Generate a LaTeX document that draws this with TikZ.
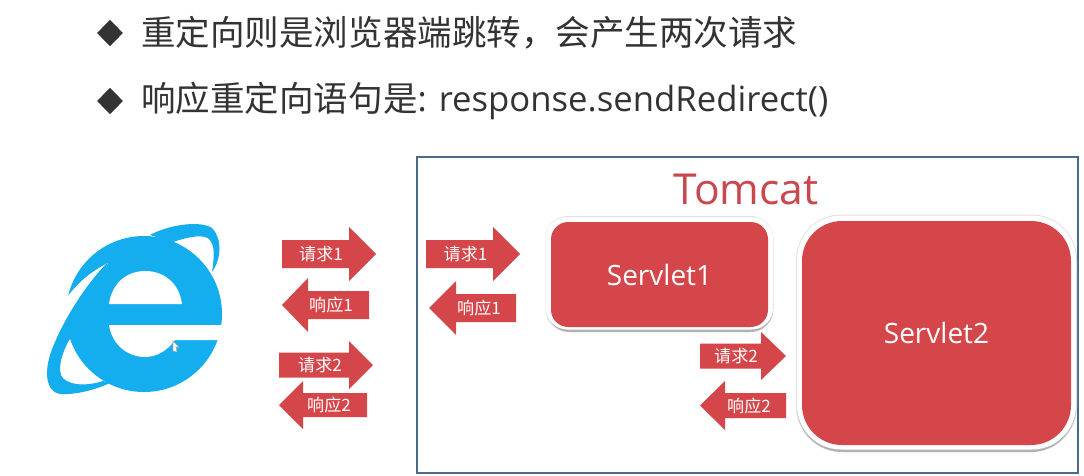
\documentclass[tikz,border=0pt]{standalone}
\usepackage{fontspec}
\setmainfont{Open Sans}
\newfontfamily\cjk{Noto Sans CJK SC}
\definecolor{boxred}{HTML}{D5464B}
\definecolor{titlered}{HTML}{C9484D}
\definecolor{ieblue}{HTML}{14ADEE}
\definecolor{framec}{HTML}{4A6A8A}
\definecolor{inkc}{HTML}{333333}
\tikzset{
  lbl/.style={text=white,font=\cjk\fontsize{12.8pt}{14pt}\selectfont,inner sep=0pt},
  servletbox/.style={fill=boxred,draw=none,inner sep=0pt,text=white,font=\fontsize{21pt}{24pt}\selectfont},
  boxshadow/.style={fill=black!30,draw=none},
  bullet/.style={diamond,fill=inkc,inner sep=0pt,minimum width=19.5pt,minimum height=20pt},
  headline/.style={anchor=west,inner sep=0pt,text=inkc,font=\cjk\fontsize{25.9pt}{30pt}\selectfont},
}
\usetikzlibrary{shapes.geometric}
% name, tail x, head base x, tip x, mid y, body half, head half, label x, text
\newcommand{\arrowR}[9]{%
  \fill[boxred] (#2,#5-#6)--(#3,#5-#6)--(#3,#5-#7)--(#4,#5)--(#3,#5+#7)--(#3,#5+#6)--(#2,#5+#6)--cycle;
  \node[lbl] (#1) at (#8,#5) {#9};}
\begin{document}
\begin{tikzpicture}[x=0.75pt,y=-0.75pt]
\useasboundingbox (0,0) rectangle (1084,475);
\fill[white] (0,0) rectangle (1084,475);
% headings
\node[bullet] (b1) at (110,33) {};
\node[bullet] (b2) at (110,101) {};
\node[headline] (h1) at (141,33) {重定向则是浏览器端跳转，会产生两次请求};
\node[headline] (h2) at (141,101) {响应重定向语句是{\fontspec{Open Sans}\fontsize{26pt}{30pt}\selectfont: response.sendRedirect()}};
% IE logo
\fill[ieblue] (144,314) circle[radius=78];
\fill[white] (108,263) .. controls (90,272) and (78,283) .. (68,296) -- (55,298) -- (45,345) -- (75,330) -- cycle;
\fill[ieblue] (108,262) .. controls (85,285) and (60,325) .. (50,355) .. controls (44,375) and (47,392) .. (60,394) .. controls (75,395) and (95,390) .. (110,383) -- (103,381) .. controls (85,387) and (65,385) .. (61,375) .. controls (58,365) and (63,352) .. (68,342) -- (95,300) -- cycle;
\fill[ieblue] (150,235) .. controls (168,225) and (200,220) .. (212,228) .. controls (222,238) and (222,258) .. (212,272) .. controls (214,258) and (216,245) .. (208,238) .. controls (200,234) and (185,238) .. (173,242) -- cycle;
\fill[white] (109,304) .. controls (112,282) and (128,271) .. (145,271) .. controls (163,271) and (179,282) .. (182,304) -- cycle;
\fill[white] (109,325) .. controls (112,345) and (128,357) .. (145,357) .. controls (157,357) and (168,350) .. (175,340) -- (230,340) -- (230,325) -- cycle;
\fill[white,draw=black!35,line width=0.4pt] (173,341) -- (179,347) -- (176,347) -- (177,352) -- (173,351) -- cycle;
% frame
\draw[framec,line width=1.5pt] (417,157) rectangle (1078,473);
\node[text=titlered,inner sep=0pt,font=\fontsize{32pt}{36pt}\selectfont] (tomcat) at (746,189) {Tomcat};
% servlets
\fill[black!12,rounded corners=17pt] (545.5,216) rectangle (773.5,332);
\fill[boxshadow,rounded corners=17pt] (547,226) rectangle (773,332);
\fill[white,rounded corners=16pt] (546,217) rectangle (773,329.5);
\node[servletbox,rounded corners=13pt,minimum width=162.75pt,minimum height=78.75pt] (s1) at (659.5,274.5) {Servlet1};
\fill[black!12,rounded corners=34pt] (796,214.5) rectangle (1077,452);
\fill[boxshadow,rounded corners=34pt] (797,226) rectangle (1076,452);
\fill[white,rounded corners=33pt] (797,215.5) rectangle (1076,449.5);
\node[servletbox,rounded corners=30pt,minimum width=201.75pt,minimum height=168pt] (s2) at (936.5,333) {Servlet2};
% arrows outside Tomcat
\arrowR{a1}{282}{349}{376}{254}{14}{27}{321}{请求1}
\arrowR{a2}{369}{308}{282}{305}{14}{27}{331}{响应1}
\arrowR{a3}{279}{349}{373}{365}{12.5}{24}{320}{请求2}
\arrowR{a4}{367}{303}{279}{405}{12}{24}{329}{响应2}
% arrows inside Tomcat
\arrowR{a5}{426}{493}{520}{254}{14}{27}{465.5}{请求1}
\arrowR{a6}{516}{456}{429}{308}{14}{27}{479}{响应1}
\arrowR{a7}{700}{761}{786}{356}{12.5}{24}{736}{请求2}
\arrowR{a8}{786}{725}{700}{405.5}{12.5}{24.5}{749}{响应2}
\end{tikzpicture}
\end{document}
